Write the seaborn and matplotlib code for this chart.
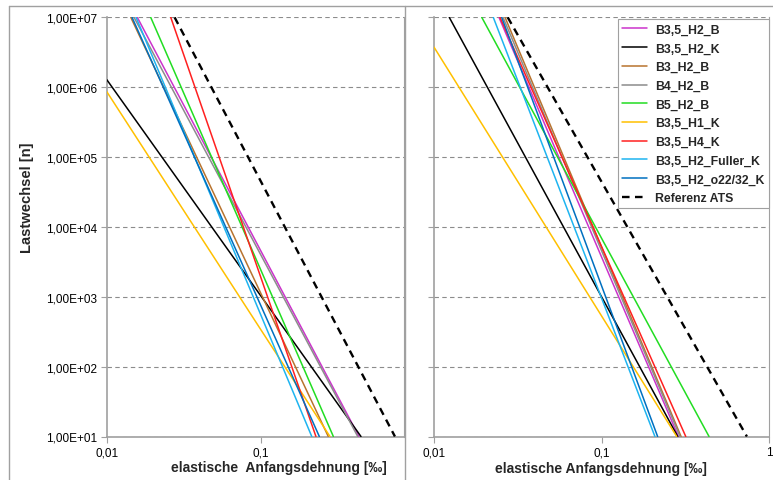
import numpy as np
import pandas as pd
import matplotlib
matplotlib.use("Agg")
import matplotlib.pyplot as plt
from matplotlib.ticker import FixedLocator, FuncFormatter, NullLocator
from matplotlib.lines import Line2D
import seaborn as sns

sns.set_theme(style="white")
plt.rcParams['font.family'] = ['Liberation Sans', 'DejaVu Sans']

series = ["B3,5_H2_B", "B3,5_H2_K", "B3_H2_B", "B4_H2_B", "B5_H2_B",
          "B3,5_H1_K", "B3,5_H4_K", "B3,5_H2_Fuller_K", "B3,5_H2_o22/32_K",
          "Referenz ATS"]
colors = ["#CC33CC", "#000000", "#B8732E", "#8C8C8C", "#22DD22",
          "#FFC000", "#FF2020", "#1EB4F0", "#0070C0", "#000000"]

# left panel: start point (eps, N) and end point (eps, N)
left_eps0 = [0.01578, 0.01, 0.01432, 0.01503, 0.01928, 0.01, 0.02600, 0.01549, 0.01459, 0.02754]
left_N0 = [1e7, 1.285e6, 1e7, 1e7, 1e7, 8.65e5, 1e7, 1e7, 1e7, 1e7]
left_eps1 = [0.4315, 0.4446, 0.2729, 0.4236, 0.2944, 0.2799, 0.2270, 0.2133, 0.2388, 0.7379]
left_N1 = [10, 10, 10, 10, 10, 10, 10, 10, 10, 10]

# right panel
right_eps0 = [0.02443, 0.01233, 0.02655, 0.02582, 0.01928, 0.01, 0.02477, 0.02259, 0.02535, 0.02754]
right_N0 = [1e7, 1e7, 1e7, 1e7, 1e7, 3.74e6, 1e7, 1e7, 1e7, 1e7]
right_eps1 = [0.2877, 0.2851, 0.2985, 0.2944, 0.4385, 0.2812, 0.3184, 0.2084, 0.2163, 0.7379]
right_N1 = [10, 10, 10, 10, 10, 10, 10, 10, 10, 10]

y_ticks = [1e1, 1e2, 1e3, 1e4, 1e5, 1e6, 1e7]
x_ticks = [0.01, 0.1, 1]
x_labels = ["0,01", "0,1", "1"]

W, H = 773, 481
fig = plt.figure(figsize=(W / 100, H / 100), dpi=100)

def fx(px):
    return px / W

def fy(py):
    return 1 - py / H

axL = fig.add_axes([fx(106.7), fy(437.5), fx(404 - 106.7), (437.5 - 18.3) / H])
axR = fig.add_axes([fx(434), fy(437.5), fx(769 - 434), (437.5 - 18.3) / H])

grey = "#A0A0A0"

def draw(ax, e0, n0, e1, n1, with_legend):
    for i, name in enumerate(series):
        is_ref = name == "Referenz ATS"
        d = pd.DataFrame({"eps": [e0[i], e1[i]], "N": [n0[i], n1[i]]})
        sns.lineplot(data=d, x="eps", y="N", ax=ax, sort=False, estimator=None,
                     color=colors[i], lw=1.7 if is_ref else 1.1,
                     linestyle=(0, (3.2, 2.3)) if is_ref else "-",
                     label=name if with_legend else None, legend=with_legend,
                     zorder=3)
    ax.set_xscale("log")
    ax.set_yscale("log")
    ax.set_ylim(10, 1e7)
    ax.yaxis.set_major_locator(FixedLocator(y_ticks))
    ax.yaxis.set_minor_locator(NullLocator())
    ax.xaxis.set_major_locator(FixedLocator(x_ticks))
    ax.xaxis.set_minor_locator(NullLocator())
    ax.xaxis.set_major_formatter(FuncFormatter(lambda v, p: x_labels[x_ticks.index(v)] if v in x_ticks else ""))
    ax.yaxis.set_major_formatter(FuncFormatter(lambda v, p: ("%.2E" % v).replace(".", ",")))
    ax.grid(False)
    for yt in y_ticks:
        ax.axhline(yt, color="#8C8C8C", lw=0.8, linestyle=(0, (4, 3)), zorder=1)
    ax.set_xlabel("")
    ax.set_ylabel("")
    for s in ["left", "bottom"]:
        ax.spines[s].set_color(grey)
        ax.spines[s].set_linewidth(1.2)
    ax.spines["top"].set_visible(False)
    ax.spines["right"].set_color(grey)
    ax.spines["right"].set_linewidth(0.8)
    ax.tick_params(axis="both", which="major", direction="out", length=4,
                   width=0.8, color=grey, labelsize=8.5, labelcolor="black",
                   bottom=True, left=True, pad=3)
    ax.set_facecolor("white")

draw(axL, left_eps0, left_N0, left_eps1, left_N1, False)
axL.set_xlim(0.01, 10 ** (-2 + (404 - 106.7) / 154.3))
draw(axR, right_eps0, right_N0, right_eps1, right_N1, True)
axR.set_xlim(0.01, 1)
axR.tick_params(axis="y", labelleft=False)

leg = axR.legend(loc="upper right", bbox_to_anchor=(1.0, 0.995), borderaxespad=0.0,
                 fontsize=8.8, frameon=True, fancybox=False, framealpha=1,
                 edgecolor=grey, handlelength=2.0, handletextpad=0.7,
                 labelspacing=0.55, borderpad=0.35)
leg.get_frame().set_linewidth(0.8)
for t in leg.get_texts():
    t.set_fontweight("bold")

fig.text(fx(279), fy(468), "elastische  Anfangsdehnung [‰]", ha="center", va="center",
         fontsize=10, fontweight="bold")
fig.text(fx(601), fy(469), "elastische Anfangsdehnung [‰]", ha="center", va="center",
         fontsize=10, fontweight="bold")
fig.text(fx(27), fy(198), "Lastwechsel [n]", ha="center", va="center", rotation=90,
         fontsize=10.6, fontweight="bold")

# outer chart borders
fig.add_artist(Line2D([fx(9), fx(773)], [fy(7), fy(7)], color=grey, lw=1.0))
fig.add_artist(Line2D([fx(9), fx(9)], [fy(7), fy(481)], color=grey, lw=1.0))
fig.add_artist(Line2D([fx(404.5), fx(404.5)], [fy(7), fy(481)], color=grey, lw=1.0))

fig.savefig("out.png", dpi=100, facecolor="white")
